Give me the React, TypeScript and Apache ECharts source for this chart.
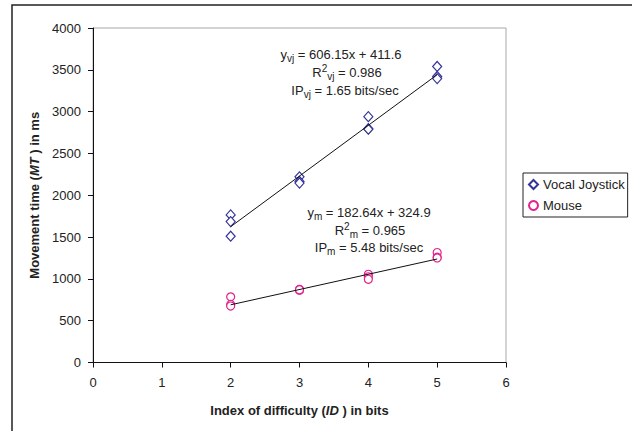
import React, { useEffect, useRef } from "react";
import * as echarts from "echarts";

// ---- data ----
const xTicks = [0, 1, 2, 3, 4, 5, 6];
const vocalJoystickPoints: [number, number][] = [
  [2, 1765], [2, 1685], [2, 1510],
  [3, 2220], [3, 2165], [3, 2145],
  [4, 2940], [4, 2795], [4, 2790],
  [5, 3540], [5, 3420], [5, 3395],
];
const mousePoints: [number, number][] = [
  [2, 785], [2, 695], [2, 675],
  [3, 875], [3, 865], [3, 870],
  [4, 1055], [4, 1025], [4, 995],
  [5, 1315], [5, 1260], [5, 1250],
];
const vocalJoystickTrend: [number, number][] = [[2, 1624], [5, 3442]];
const mouseTrend: [number, number][] = [[2, 690], [5, 1238]];
const seriesNames = ["Vocal Joystick", "Mouse"];
const vjLines = ["y{s|vj} = 606.15x + 411.6", "R{p|2}{s|vj} = 0.986", "IP{s|vj} = 1.65 bits/sec"];
const mLines = ["y{s|m} = 182.64x + 324.9", "R{p|2}{s|m} = 0.965", "IP{s|m} = 5.48 bits/sec"];

const FONT = "'Liberation Sans', Arial, Helvetica, sans-serif";
const TXT = "#222";
const VJ_COLOR = "#33339a";
const M_COLOR = "#e3218c";

const rich = {
  s: { fontSize: 10, lineHeight: 10, verticalAlign: "bottom", fontFamily: FONT, fill: TXT },
  p: { fontSize: 10, lineHeight: 10, verticalAlign: "top", fontFamily: FONT, fill: TXT },
};

function annot(text: string, x: number, y: number) {
  return {
    type: "text",
    x,
    y,
    silent: true,
    style: {
      text,
      fontSize: 13,
      lineHeight: 18,
      fontFamily: FONT,
      fill: TXT,
      align: "center",
      verticalAlign: "middle",
      rich,
    },
  };
}

export default function App() {
  const ref = useRef<HTMLDivElement>(null);
  useEffect(() => {
    if (!ref.current) return;
    const chart = echarts.init(ref.current, undefined, { renderer: "svg" });
    const vjPos = [[341, 54], [347, 72.5], [345, 90.8]];
    const mPos = [[369, 212.8], [370, 230.5], [369, 247.5]];
    chart.setOption({
      animation: false,
      backgroundColor: "#fff",
      textStyle: { fontFamily: FONT },
      grid: {
        left: 93,
        top: 28,
        width: 413,
        height: 334.5,
        show: true,
        borderColor: "#a8a8a8",
        borderWidth: 1,
        backgroundColor: "transparent",
      },
      legend: {
        orient: "vertical",
        left: 523,
        top: 173,
        padding: [5, 3, 5, 5],
        itemGap: 8,
        itemWidth: 9,
        itemHeight: 9,
        borderColor: "#222",
        borderWidth: 1,
        backgroundColor: "#fff",
        textStyle: { fontSize: 13, color: TXT, fontFamily: FONT },
        data: [
          { name: seriesNames[0], icon: "diamond" },
          { name: seriesNames[1], icon: "circle" },
        ],
      },
      xAxis: {
        type: "value",
        min: xTicks[0],
        max: xTicks[xTicks.length - 1],
        interval: 1,
        name: "Index of difficulty ({i|ID} ) in bits",
        nameLocation: "middle",
        nameGap: 41,
        nameTextStyle: {
          fontSize: 13,
          fontWeight: "bold",
          color: TXT,
          fontFamily: FONT,
          rich: { i: { fontSize: 13, fontWeight: "bold", fontStyle: "italic", color: TXT, fontFamily: FONT } },
        },
        axisLine: { show: true, lineStyle: { color: "#111", width: 1 } },
        axisTick: { show: true, inside: false, length: 5, lineStyle: { color: "#111" } },
        axisLabel: { fontSize: 13, color: TXT, margin: 13, fontFamily: FONT },
        splitLine: { show: false },
      },
      yAxis: {
        type: "value",
        min: 0,
        max: 4000,
        interval: 500,
        name: "Movement time ({i|MT} ) in ms",
        nameLocation: "middle",
        nameGap: 49,
        nameTextStyle: {
          fontSize: 13,
          fontWeight: "bold",
          color: TXT,
          fontFamily: FONT,
          rich: { i: { fontSize: 13, fontWeight: "bold", fontStyle: "italic", color: TXT, fontFamily: FONT } },
        },
        axisLine: { show: true, lineStyle: { color: "#111", width: 1 } },
        axisTick: { show: true, inside: false, length: 5, lineStyle: { color: "#111" } },
        axisLabel: {
          fontSize: 13,
          color: TXT,
          margin: 12,
          fontFamily: FONT,
          formatter: (v: number) => String(v),
        },
        splitLine: { show: false },
      },
      series: [
        {
          name: seriesNames[0],
          type: "scatter",
          symbol: "diamond",
          symbolSize: [9, 10],
          data: vocalJoystickPoints,
          itemStyle: { color: "#fff", borderColor: VJ_COLOR, borderWidth: 1.2, opacity: 1 },
          z: 2,
        },
        {
          name: seriesNames[1],
          type: "scatter",
          symbol: "circle",
          symbolSize: 8,
          data: mousePoints,
          itemStyle: { color: "#fff", borderColor: M_COLOR, borderWidth: 1.2, opacity: 1 },
          z: 2,
        },
        {
          name: "vj-trend",
          type: "line",
          data: vocalJoystickTrend,
          symbol: "none",
          silent: true,
          lineStyle: { color: "#111", width: 1 },
          z: 3,
        },
        {
          name: "m-trend",
          type: "line",
          data: mouseTrend,
          symbol: "none",
          silent: true,
          lineStyle: { color: "#111", width: 1 },
          z: 3,
        },
      ],
      graphic: [
        {
          type: "rect",
          silent: true,
          shape: { x: 12, y: 5, width: 700, height: 500 },
          style: { fill: "none", stroke: "#222", lineWidth: 1.5 },
          z: 100,
        },
        ...vjLines.map((t, i) => annot(t, vjPos[i][0], vjPos[i][1])),
        ...mLines.map((t, i) => annot(t, mPos[i][0], mPos[i][1])),
      ],
    });
    return () => chart.dispose();
  }, []);
  return (
    <div
      ref={ref}
      style={{ position: "fixed", left: 0, top: 0, width: 632, height: 431, background: "#fff" }}
    />
  );
}
